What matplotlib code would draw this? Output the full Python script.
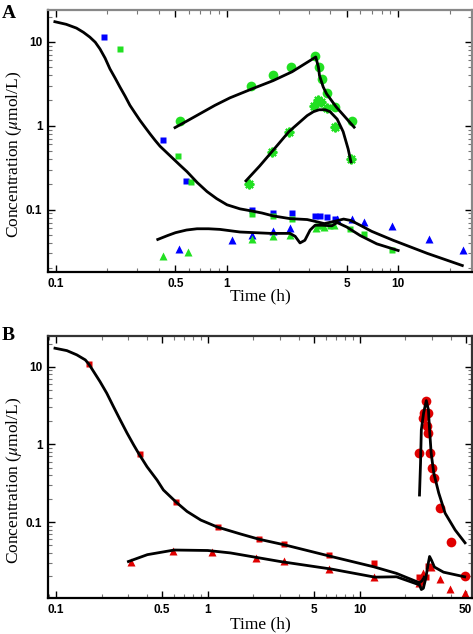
import matplotlib
matplotlib.use("Agg")
import matplotlib.pyplot as plt
from matplotlib.ticker import FixedLocator, LogLocator, NullFormatter

plt.rcParams['mathtext.fontset'] = 'stix'

BLUE = '#0000ff'
GREEN = '#22e022'
RED = '#e00000'

# ---- panel A data ----
a_blue_sq_t = [0.19, 0.42, 0.575, 1.40, 1.86, 2.4, 3.27, 3.5, 3.85, 4.3]
a_blue_sq_c = [11.5, 0.68, 0.22, 0.10, 0.092, 0.090, 0.083, 0.083, 0.082, 0.078]
a_green_sq_t = [0.237, 0.52, 0.62, 1.40, 1.86, 2.4, 3.4, 3.6, 4.0, 5.2, 6.3, 9.2]
a_green_sq_c = [8.3, 0.44, 0.215, 0.089, 0.083, 0.078, 0.063, 0.063, 0.063, 0.058, 0.051, 0.0325]
a_blue_tri_t = [0.524, 1.07, 1.40, 1.86, 2.33, 4.4, 5.4, 6.3, 9.2, 15.2, 24.0]
a_blue_tri_c = [0.034, 0.043, 0.050, 0.056, 0.061, 0.078, 0.078, 0.072, 0.063, 0.044, 0.0325]
a_green_tri_t = [0.423, 0.59, 1.40, 1.86, 2.33, 3.3, 3.7, 4.2]
a_green_tri_c = [0.028, 0.031, 0.045, 0.049, 0.050, 0.060, 0.062, 0.065]
a_circ_t = [0.53, 1.38, 1.86, 2.37, 3.27, 3.45, 3.59, 3.85, 4.28, 5.38]
a_circ_c = [1.15, 3.0, 4.0, 5.0, 6.8, 5.0, 3.6, 2.47, 1.68, 1.15]
a_star_t = [1.35, 1.83, 2.3, 3.23, 3.41, 3.55, 3.85, 4.28, 5.31]
a_star_c = [0.20, 0.49, 0.85, 1.73, 2.04, 1.93, 1.64, 0.97, 0.40]

# model curves
a_fit1_t = [0.0987, 0.115, 0.132, 0.145, 0.158, 0.17, 0.181, 0.194, 0.207, 0.222, 0.237,
            0.254, 0.271, 0.29, 0.31, 0.332, 0.355, 0.38, 0.406, 0.464, 0.53, 0.584, 0.67,
            0.764, 0.87, 1.0, 1.19, 1.4, 1.6, 1.86, 2.33, 2.94, 3.3, 3.7, 4.2, 4.8, 5.3,
            6.0, 7.0, 9.35, 14.8, 23.7]
a_fit1_c = [17.4, 16.2, 14.6, 13.0, 11.4, 9.9, 8.25, 6.4, 4.77, 3.7, 2.89, 2.25, 1.75,
            1.42, 1.16, 0.96, 0.80, 0.67, 0.57, 0.44, 0.34, 0.283, 0.21, 0.164, 0.135,
            0.114, 0.102, 0.096, 0.091, 0.084, 0.078, 0.076, 0.072, 0.068, 0.072, 0.077,
            0.074, 0.065, 0.055, 0.043, 0.030, 0.0215]
a_fit2_t = [0.394, 0.45, 0.50, 0.58, 0.668, 0.78, 0.91, 1.19, 1.79, 2.33, 2.5, 2.67, 2.85,
            3.06, 3.27, 3.6, 4.1, 4.4, 5.0, 6.0, 7.5, 10.0]
a_fit2_c = [0.044, 0.049, 0.053, 0.057, 0.059, 0.059, 0.058, 0.054, 0.052, 0.052, 0.048,
            0.040, 0.043, 0.057, 0.065, 0.065, 0.064, 0.070, 0.062, 0.049, 0.039, 0.0325]
a_fit3_t = [0.497, 0.58, 0.695, 0.85, 1.04, 1.4, 1.86, 2.4, 3.3, 3.42, 3.47, 3.65, 3.82,
            4.35, 5.53]
a_fit3_c = [0.95, 1.13, 1.39, 1.75, 2.15, 2.75, 3.45, 4.4, 6.6, 5.0, 3.97, 2.89, 2.4,
            1.67, 0.96]
a_fit4_t = [1.29, 1.55, 1.83, 2.3, 2.94, 3.2, 3.45, 3.75, 4.0, 4.4, 4.77, 5.1, 5.3]
a_fit4_c = [0.22, 0.33, 0.49, 0.85, 1.32, 1.47, 1.55, 1.55, 1.47, 1.2, 0.85, 0.53, 0.37]

# ---- panel B data ----
b_sq_t = [0.166, 0.355, 0.62, 1.16, 2.18, 3.18, 6.24, 12.4, 24.6, 25.5, 27.5, 28.4]
b_sq_c = [10.9, 0.75, 0.18, 0.086, 0.060, 0.052, 0.0375, 0.0296, 0.0197, 0.017, 0.0197, 0.027]
b_tri_t = [0.31, 0.586, 1.07, 2.08, 3.18, 6.24, 12.4, 24.8, 26.0, 29.5, 33.9, 39.5, 49.5]
b_tri_c = [0.0305, 0.042, 0.041, 0.0343, 0.0314, 0.0248, 0.0195, 0.0163, 0.022, 0.026,
           0.0182, 0.0137, 0.0123]
b_circ_t = [27.5, 26.4, 28.4, 26.0, 27.9, 28.4, 24.8, 28.9, 29.9, 30.9, 33.9, 40.0, 49.5]
b_circ_c = [3.67, 2.55, 2.55, 2.2, 1.73, 1.40, 0.776, 0.78, 0.50, 0.37, 0.152, 0.055, 0.020]

b_fit1_t = [0.0985, 0.118, 0.137, 0.156, 0.165, 0.177, 0.195, 0.216, 0.239, 0.265, 0.294,
            0.325, 0.352, 0.398, 0.463, 0.51, 0.62, 0.73, 0.9, 1.16, 1.65, 2.18, 3.18,
            6.5, 12.4, 17.5, 24.8, 25.8, 26.6]
b_fit1_c = [17.4, 16.2, 14.3, 12.3, 10.8, 8.7, 6.46, 4.58, 3.08, 2.07, 1.40, 0.985, 0.755,
            0.516, 0.348, 0.259, 0.18, 0.137, 0.106, 0.086, 0.070, 0.060, 0.051, 0.036,
            0.0265, 0.0218, 0.0165, 0.0175, 0.0195]
b_fit2_t = [0.30, 0.4, 0.6, 1.0, 1.41, 3.0, 6.5, 12.6, 17.5, 24.8, 25.5, 26.3, 27.3, 28.2,
            28.9, 29.8, 31.1, 35.7, 49.2]
b_fit2_c = [0.031, 0.038, 0.0436, 0.043, 0.040, 0.031, 0.0248, 0.0195, 0.0197, 0.0155,
            0.0135, 0.0140, 0.019, 0.028, 0.036, 0.032, 0.0263, 0.0226, 0.0197]
b_fit3_t = [24.8, 25.2, 25.5, 26.4, 27.5, 28.4, 28.9, 29.6, 30.8, 33.2, 36.6, 42.6, 49.5]
b_fit3_c = [0.223, 0.577, 1.54, 2.55, 3.67, 2.79, 1.54, 0.776, 0.428, 0.237, 0.13, 0.079, 0.054]

fig = plt.figure(figsize=(4.73, 6.34), dpi=100)
axA = fig.add_axes([48 / 473, 1 - 272 / 634, 424 / 473, 262 / 634])
axB = fig.add_axes([48 / 473, 1 - 598 / 634, 424 / 473, 262 / 634])


def style(ax, xlim, ylim, xticks, xlabels, edge):
    ax.set_xscale('log')
    ax.set_yscale('log')
    ax.set_xlim(*xlim)
    ax.set_ylim(*ylim)
    ax.xaxis.set_major_locator(FixedLocator(xticks))
    ax.set_xticklabels(xlabels)
    ax.xaxis.set_minor_locator(LogLocator(base=10, subs=range(2, 10)))
    ax.xaxis.set_minor_formatter(NullFormatter())
    ax.yaxis.set_major_locator(FixedLocator([0.1, 1, 10]))
    ax.set_yticklabels(['0.1', '1', '10'])
    ax.yaxis.set_minor_locator(LogLocator(base=10, subs=range(2, 10)))
    ax.yaxis.set_minor_formatter(NullFormatter())
    ax.tick_params(which='both', direction='in', top=True, right=True,
                   labelsize=8.5, pad=4)
    ax.tick_params(which='major', length=5, width=1)
    ax.tick_params(which='minor', length=3, width=0.8, colors='#777777', labelcolor='black')
    for lab in ax.get_xticklabels() + ax.get_yticklabels():
        lab.set_fontfamily('Liberation Sans')
        lab.set_fontweight('bold')
    for s in ['left', 'bottom']:
        ax.spines[s].set_linewidth(1.6)
        ax.spines[s].set_color('black')
    for s in ['top', 'right']:
        ax.spines[s].set_linewidth(1.6)
        ax.spines[s].set_color(edge)
    ax.set_xlabel('Time (h)', fontfamily='Liberation Serif', fontsize=12.5)
    ax.set_ylabel(r'Concentration ($\mu$mol/L)', fontfamily='Liberation Serif', fontsize=12.5)
    ax.yaxis.set_label_coords(-0.057, 0.447)


style(axA, (0.09, 27), (0.018, 24), [0.1, 0.5, 1, 5, 10],
      ['0.1', '0.5', '1', '5', '10'], '#888888')
axA.xaxis.set_label_coords(0.5, -0.063)

axA.plot(a_fit1_t, a_fit1_c, color='black', lw=2, zorder=3)
axA.plot(a_fit2_t, a_fit2_c, color='black', lw=2, zorder=3)
axA.plot(a_fit3_t, a_fit3_c, color='black', lw=2, zorder=3)
axA.plot(a_fit4_t, a_fit4_c, color='black', lw=2, zorder=3)
axA.plot(a_blue_sq_t, a_blue_sq_c, 's', color=BLUE, ms=5, mec='none', zorder=2)
axA.plot(a_green_sq_t, a_green_sq_c, 's', color=GREEN, ms=5, mec='none', zorder=2)
axA.plot(a_blue_tri_t, a_blue_tri_c, '^', color=BLUE, ms=6, mec='none', zorder=2)
axA.plot(a_green_tri_t, a_green_tri_c, '^', color=GREEN, ms=6, mec='none', zorder=2)
axA.plot(a_circ_t, a_circ_c, 'o', color=GREEN, ms=7, mec='none', zorder=2)
axA.plot(a_star_t, a_star_c, ls='none', marker=(8, 2, 0), color=GREEN, ms=7, mew=1.5, zorder=2)

style(axB, (0.0886, 55), (0.0105, 25), [0.1, 0.5, 1, 5, 10, 50],
      ['0.1', '0.5', '1', '5', '10', '50'], '#333333')
axB.xaxis.set_label_coords(0.5, -0.07)

axB.plot(b_fit1_t, b_fit1_c, color='black', lw=2, zorder=3)
axB.plot(b_fit2_t, b_fit2_c, color='black', lw=2, zorder=3)
axB.plot(b_fit3_t, b_fit3_c, color='black', lw=2, zorder=3)
axB.plot(b_sq_t, b_sq_c, 's', color=RED, ms=5, mec='none', zorder=2)
axB.plot(b_tri_t, b_tri_c, '^', color=RED, ms=6, mec='none', zorder=2)
axB.plot(b_circ_t, b_circ_c, 'o', color=RED, ms=7, mec='none', zorder=2)

fig.text(0.003, 1 - 14 / 634, 'A', fontfamily='Liberation Serif', fontweight='bold',
         fontsize=14, va='center')
fig.text(0.003, 1 - 335 / 634, 'B', fontfamily='Liberation Serif', fontweight='bold',
         fontsize=14, va='center')

fig.savefig('out.png', dpi=100)
